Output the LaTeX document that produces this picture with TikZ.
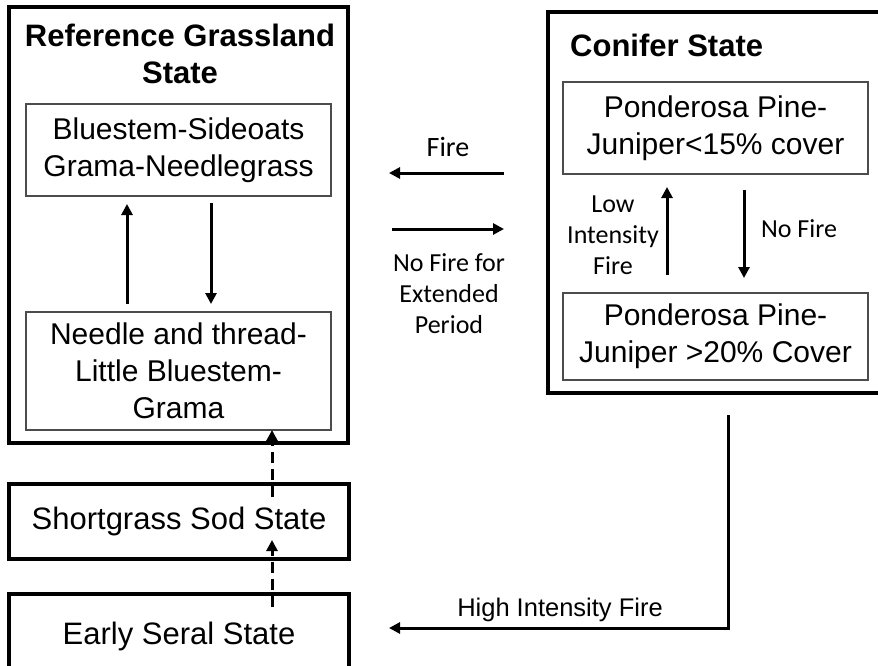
\documentclass[tikz,border=0pt]{standalone}
\usepackage{fontspec}
\setmainfont{Liberation Sans}
\newfontfamily\calib{Carlito}
\usetikzlibrary{arrows.meta}
\begin{document}
\begin{tikzpicture}[x=1pt,y=-1pt]
\tikzset{
  bigbox/.style={draw=black, line width=3.6pt, inner sep=0pt, outer sep=0pt, align=center},
  smallbox/.style={draw=black!70, line width=1.5pt, inner sep=0pt, outer sep=0pt, align=center,
    font=\fontsize{30}{37}\selectfont},
  statefont/.style={font=\fontsize{31}{37}\selectfont},
  titlefont/.style={font=\bfseries\fontsize{31}{37}\selectfont, align=center, inner sep=0pt},
  arr/.style={line width=3pt, -{Triangle[length=11pt,width=11pt]}},
  dasharr/.style={arr, dash pattern=on 11pt off 6pt},
  lab/.style={font=\calib\fontsize{26}{31}\selectfont, align=center, inner sep=0pt},
  hlab/.style={font=\fontsize{25.5}{30}\selectfont, inner sep=0pt},
}
\useasboundingbox (0,0) rectangle (878,666);
\clip (0,0) rectangle (878,666);
\fill[white] (0,0) rectangle (878,666);

% Reference grassland state
\node[bigbox, minimum width=339pt, minimum height=436pt] (ref) at (178.5,225) {};
\node[titlefont] (reftitle) at (180,53.5) {Reference Grassland\\State};
\node[smallbox, minimum width=305pt, minimum height=92pt] (b1) at (178.5,150) {Bluestem-Sideoats\\Grama-Needlegrass};
\node[smallbox, minimum width=305pt, minimum height=118pt] (b2) at (178.5,371) {Needle and thread-\\Little Bluestem-\\Grama};

% Conifer state
\node[bigbox, minimum width=337pt, minimum height=381pt] (conifer) at (716.5,202.5) {};
\node[titlefont, anchor=west] (contitle) at (570,45) {Conifer State};
\node[smallbox, minimum width=305pt, minimum height=92pt] (cA) at (715.5,128) {Ponderosa Pine-\\Juniper<15\% cover};
\node[smallbox, minimum width=305pt, minimum height=87pt] (cB) at (715.5,336.5) {Ponderosa Pine-\\Juniper >20\% Cover};

% Lower states
\node[bigbox, statefont, minimum width=340pt, minimum height=75pt] (short) at (179,521.5) {Shortgrass Sod State};
\node[bigbox, statefont, minimum width=340pt, minimum height=84pt] (early) at (179,636) {Early Seral State};

% Arrows inside reference state
\draw[arr, shorten <=8pt, shorten >=8pt] (127,0 |- b2.north) -- (127,0 |- b1.south);
\draw[arr, shorten <=7pt, shorten >=8pt] (211,0 |- b1.south) -- (211,0 |- b2.north);

% Arrows inside conifer state
\draw[arr, shorten <=18pt, shorten >=13pt] (667,0 |- cB.north) -- (667,0 |- cA.south);
\draw[arr, shorten <=16pt, shorten >=15pt] (744,0 |- cA.south) -- (744,0 |- cB.north);
\node[lab] (lowlab) at (613,235) {Low\\Intensity\\Fire};
\node[lab] (nofirelab) at (799,229) {No Fire};

% Arrows between states
\draw[arr, shorten <=44pt, shorten >=41pt] (conifer.west |- 0,173) -- (ref.east |- 0,173);
\node[lab, font=\calib\fontsize{28}{31}\selectfont] (firelab) at (448,147) {Fire};
\draw[arr, shorten <=44pt, shorten >=44pt] (ref.east |- 0,229) -- (conifer.west |- 0,229);
\node[lab] (nofireext) at (449,294) {No Fire for\\Extended\\Period};

% High intensity fire
\draw[arr, shorten <=22pt, shorten >=40pt] (728,0 |- conifer.south) |- (early.east |- 0,628);
\node[hlab] (highlab) at (560,610) {High Intensity Fire};

% Dashed transitions
\draw[dasharr, shorten <=-13pt, shorten >=-19pt] (272,0 |- early.north) -- (272,0 |- short.south);
\draw[dasharr, shorten <=-13pt] (272,0 |- short.north) -- (272,0 |- b2.south);
\end{tikzpicture}
\end{document}
